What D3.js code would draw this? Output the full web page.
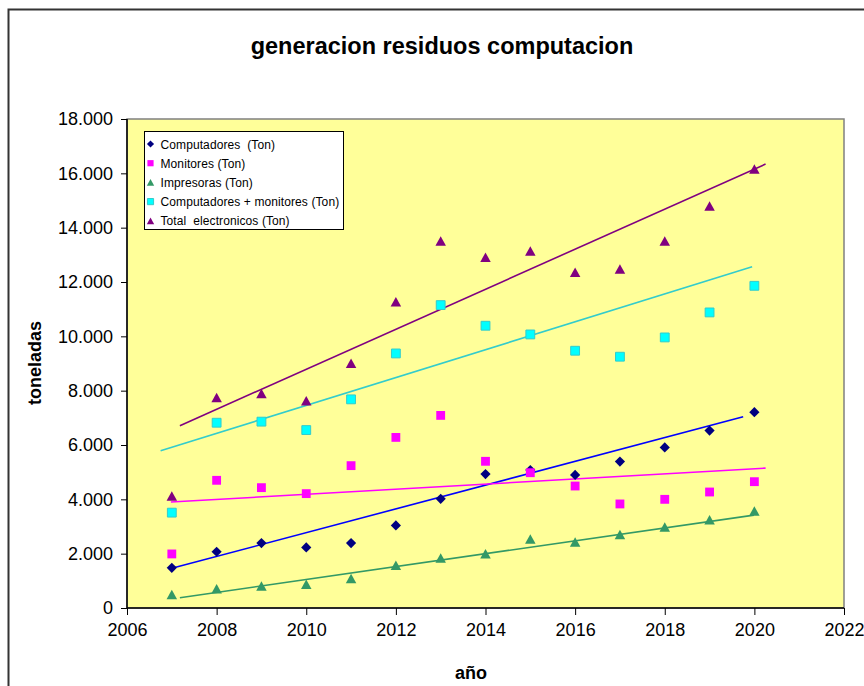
<!DOCTYPE html>
<html>
<head>
<meta charset="utf-8">
<script src="https://cdn.jsdelivr.net/npm/d3@7"></script>
<style>
  body { margin: 0; background: #fff; }
  text { font-family: "Liberation Sans", Arial, sans-serif; }
</style>
</head>
<body>
<div id="chart-area"></div>
<script>
// Datos (toneladas)
const years = [2007, 2008, 2009, 2010, 2011, 2012, 2013, 2014, 2015, 2016, 2017, 2018, 2019, 2020];
const computadores = [1480, 2070, 2390, 2230, 2390, 3040, 4020, 4930, 5080, 4900, 5390, 5910, 6530, 7210];
const monitores = [1990, 4700, 4430, 4210, 5240, 6280, 7090, 5400, 4980, 4490, 3830, 4000, 4270, 4650];
const impresoras = [500, 710, 810, 870, 1090, 1570, 1840, 2000, 2540, 2430, 2710, 2980, 3250, 3570];
const compMon = [3510, 6820, 6860, 6550, 7680, 9370, 11150, 10390, 10070, 9470, 9250, 9960, 10880, 11860];
const total = [4120, 7750, 7900, 7630, 9010, 11270, 13510, 12910, 13140, 12360, 12480, 13510, 14800, 16160];

// Líneas de tendencia: [año, valor] inicio y fin
const trendComputadores = [[2007.0, 1460], [2019.75, 7040]];
const trendMonitores = [[2006.98, 3900], [2020.25, 5150]];
const trendImpresoras = [[2007.18, 380], [2019.99, 3420]];
const trendCompMon = [[2006.75, 5790], [2019.95, 12560]];
const trendTotal = [[2007.18, 6710], [2020.25, 16340]];

const xTicks = [2006, 2008, 2010, 2012, 2014, 2016, 2018, 2020, 2022];
const yTicks = [0, 2000, 4000, 6000, 8000, 10000, 12000, 14000, 16000, 18000];

const series = [
    { name: "Computadores  (Ton)", values: computadores, trend: trendComputadores,
      shape: "diamond", fill: "#000080", line: "#0000FF" },
    { name: "Monitores (Ton)", values: monitores, trend: trendMonitores,
      shape: "square", fill: "#FF00FF", line: "#FF00FF" },
    { name: "Impresoras (Ton)", values: impresoras, trend: trendImpresoras,
      shape: "triangle", fill: "#339966", line: "#339966" },
    { name: "Computadores + monitores (Ton)", values: compMon, trend: trendCompMon,
      shape: "square", fill: "#00FFFF", stroke: "#33CCCC", line: "#33CCCC" },
    { name: "Total  electronicos (Ton)", values: total, trend: trendTotal,
      shape: "triangle", fill: "#800080", line: "#800080" }
];

const W = 864, H = 686;
const plot = { left: 127, right: 844, top: 119, bottom: 608 };

const svg = d3.select("#chart-area")
    .append("svg")
    .attr("width", W)
    .attr("height", H);

// Marco exterior
svg.append("path")
    .attr("d", `M8.5,${H} V9.5 H${W}`)
    .attr("fill", "none")
    .attr("stroke", "#333")
    .attr("stroke-width", 2);

// Escalas
const x = d3.scaleLinear().domain([2006, 2022]).range([plot.left, plot.right]);
const y = d3.scaleLinear().domain([0, 18000]).range([plot.bottom, plot.top]);

const locale = d3.formatLocale({ decimal: ",", thousands: ".", grouping: [3], currency: ["", ""] });
const fmt = locale.format(",");

// Fondo del área de trazado
svg.append("rect")
    .attr("x", plot.left)
    .attr("y", plot.top)
    .attr("width", plot.right - plot.left)
    .attr("height", plot.bottom - plot.top)
    .attr("fill", "#FFFF99")
    .attr("stroke", "#808080")
    .attr("stroke-width", 1.5);

// Ejes
const xAxis = svg.append("g")
    .attr("transform", `translate(0, ${plot.bottom})`)
    .call(d3.axisBottom(x).tickValues(xTicks).tickFormat(d3.format("d")).tickSize(7).tickPadding(8));

const yAxis = svg.append("g")
    .attr("transform", `translate(${plot.left}, 0)`)
    .call(d3.axisLeft(y).tickValues(yTicks).tickFormat(fmt).tickSize(6).tickPadding(8));

[xAxis, yAxis].forEach(a => {
    a.select(".domain").attr("stroke", "#000").attr("stroke-width", 1.5);
    a.selectAll(".tick line").attr("stroke", "#000").attr("stroke-width", 1);
    a.selectAll(".tick text")
        .attr("fill", "#000")
        .style("font-size", "18px")
        .style("font-family", '"Liberation Sans", Arial, sans-serif');
});
xAxis.select(".domain").attr("d", `M${plot.left},0H${plot.right}`);
yAxis.select(".domain").attr("d", `M0,${plot.top}V${plot.bottom}`);

// Títulos
svg.append("text")
    .attr("x", 442)
    .attr("y", 54)
    .attr("text-anchor", "middle")
    .style("font-size", "23.5px")
    .style("font-weight", "bold")
    .text("generacion residuos computacion");

svg.append("text")
    .attr("transform", "translate(41, 363) rotate(-90)")
    .attr("text-anchor", "middle")
    .style("font-size", "18px")
    .style("font-weight", "bold")
    .text("toneladas");

svg.append("text")
    .attr("x", 471)
    .attr("y", 679)
    .attr("text-anchor", "middle")
    .style("font-size", "18px")
    .style("font-weight", "bold")
    .text("año");

// Símbolos
function symbolPath(shape, scale) {
    const k = scale || 1;
    if (shape === "diamond") return d3.symbol(d3.symbolSquare, 52 * k * k)();
    if (shape === "square") return d3.symbol(d3.symbolSquare, 78 * k * k)();
    // triángulo centrado en su caja
    const w = 10.5 * k, h = 9.5 * k;
    return `M0,${-h / 2}L${w / 2},${h / 2}L${-w / 2},${h / 2}Z`;
}

const plotG = svg.append("g");

// Líneas de tendencia
series.forEach(s => {
    plotG.append("line")
        .attr("x1", x(s.trend[0][0]))
        .attr("y1", y(s.trend[0][1]))
        .attr("x2", x(s.trend[1][0]))
        .attr("y2", y(s.trend[1][1]))
        .attr("stroke", s.line)
        .attr("stroke-width", 1.6);
});

// Puntos
series.forEach(s => {
    plotG.append("g")
        .selectAll("path")
        .data(years.map((yr, i) => ({ yr, v: s.values[i] })))
        .enter().append("path")
        .attr("d", symbolPath(s.shape))
        .attr("transform", d => `translate(${x(d.yr)}, ${y(d.v)})${s.shape === "diamond" ? " rotate(45)" : ""}`)
        .attr("fill", s.fill)
        .attr("stroke", s.stroke || "none")
        .attr("stroke-width", 1);
});

// Leyenda
const legend = svg.append("g");
legend.append("rect")
    .attr("x", 144.5)
    .attr("y", 131.5)
    .attr("width", 199)
    .attr("height", 98)
    .attr("fill", "#fff")
    .attr("stroke", "#000")
    .attr("stroke-width", 1);

const legendItem = legend.selectAll(".legendItem")
    .data(series)
    .enter().append("g")
    .attr("class", "legendItem")
    .attr("transform", (d, i) => `translate(150.5, ${144 + i * 19.2})`);

legendItem.append("path")
    .attr("d", d => symbolPath(d.shape, 0.7))
    .attr("transform", d => d.shape === "diamond" ? "rotate(45)" : null)
    .attr("fill", d => d.fill)
    .attr("stroke", d => d.stroke || "none");

legendItem.append("text")
    .attr("x", 10)
    .attr("y", 4.5)
    .style("font-size", "12px")
    .style("white-space", "pre")
    .style("letter-spacing", "0.1px")
    .text(d => d.name);
</script>
</body>
</html>
